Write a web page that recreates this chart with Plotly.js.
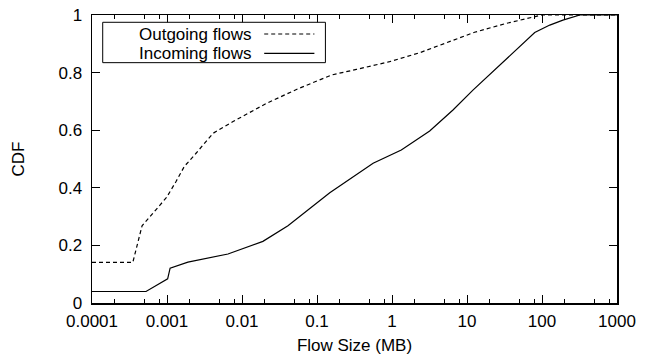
<!DOCTYPE html>
<html>
<head>
<meta charset="utf-8">
<script src="https://cdn.plot.ly/plotly-3.0.1.min.js"></script>
<style>html,body{margin:0;padding:0;background:#fff;}#chart{width:653px;height:360px;}</style>
</head>
<body>
<div id="chart"></div>
<script>
// Flow size (MB) and CDF values
const outgoingSize = [0.0001, 0.00035, 0.000465, 0.00075, 0.00099, 0.00132, 0.0017, 0.00244, 0.0041, 0.0076, 0.0211, 0.056, 0.158, 0.335, 0.93, 2.34, 5.0, 12.6, 33.5, 85, 100, 1000];
const outgoingCdf  = [0.141, 0.141, 0.268, 0.329, 0.367, 0.422, 0.474, 0.52, 0.589, 0.63, 0.693, 0.744, 0.792, 0.811, 0.838, 0.869, 0.902, 0.94, 0.971, 0.997, 1.0, 1.0];

const incomingSize = [0.0001, 0.000525, 0.00102, 0.0011, 0.0019, 0.0065, 0.019, 0.041, 0.148, 0.56, 1.33, 3.18, 6.5, 12, 80, 127, 190, 320, 1000];
const incomingCdf  = [0.04, 0.04, 0.084, 0.121, 0.142, 0.17, 0.214, 0.268, 0.383, 0.485, 0.531, 0.597, 0.67, 0.739, 0.939, 0.965, 0.982, 1.0, 1.0];

const xTickVals = [0.0001, 0.001, 0.01, 0.1, 1, 10, 100, 1000];
const xTickText = ["0.0001", "0.001", "0.01", "0.1", "1", "10", "100", "1000"];
const yTickVals = [0, 0.2, 0.4, 0.6, 0.8, 1];
const yTickText = ["0", "0.2", "0.4", "0.6", "0.8", "1"];
const seriesNames = ["Outgoing flows", "Incoming flows"];

const minorVals = [];
for (let i = 0; i < xTickVals.length - 1; i++) {
  [2, 5, 8].forEach(m => minorVals.push(xTickVals[i] * m));
}

const FONT = "Liberation Sans, Arial, Helvetica, sans-serif";
const traces = [
  {x: outgoingSize, y: outgoingCdf, mode: "lines", name: seriesNames[0],
   line: {color: "#000", width: 1.2, dash: "4px,3px"}, showlegend: false},
  {x: incomingSize, y: incomingCdf, mode: "lines", name: seriesNames[1],
   line: {color: "#000", width: 1.2}, showlegend: false}
];

// custom gnuplot-style key: text on the left, line sample on the right
const keyBox = {x0: 0.0204, x1: 0.4446, y0: 0.8345, y1: 0.9747};
const keyRows = [0.934, 0.867];
const layout = {
  width: 653, height: 360,
  margin: {l: 92, r: 36, t: 15, b: 57, pad: 0},
  paper_bgcolor: "#fff", plot_bgcolor: "#fff",
  font: {family: FONT, size: 17, color: "#000"},
  showlegend: false,
  xaxis: {
    type: "log", range: [-4, 3],
    tickmode: "array", tickvals: xTickVals, ticktext: xTickText,
    ticks: "inside", ticklen: 8, tickwidth: 1, tickcolor: "#000",
    minor: {tickmode: "array", tickvals: minorVals, ticks: "inside", ticklen: 4, tickwidth: 1, tickcolor: "#000", showgrid: false},
    showline: true, linecolor: "#000", linewidth: 1.5, mirror: "allticks",
    showgrid: false, zeroline: false,
    tickfont: {family: FONT, size: 17},
    ticklabelstandoff: 2,
    title: {text: "Flow Size (MB)", font: {family: FONT, size: 17}, standoff: 9}
  },
  yaxis: {
    range: [0, 1],
    tickmode: "array", tickvals: yTickVals, ticktext: yTickText,
    ticks: "inside", ticklen: 8, tickwidth: 1, tickcolor: "#000",
    showline: true, linecolor: "#000", linewidth: 1.5, mirror: "allticks",
    showgrid: false, zeroline: false,
    tickfont: {family: FONT, size: 17},
    ticklabelstandoff: 5,
    title: {text: "CDF", font: {family: FONT, size: 17}, standoff: 29}
  },
  shapes: [
    {type: "rect", xref: "paper", yref: "paper", x0: keyBox.x0, x1: keyBox.x1, y0: keyBox.y0, y1: keyBox.y1,
     line: {color: "#000", width: 1}, fillcolor: "#fff", layer: "above"},
    {type: "line", xref: "paper", yref: "paper", x0: 0.328, x1: 0.4236, y0: keyRows[0], y1: keyRows[0],
     line: {color: "#000", width: 1.2, dash: "4px,3px"}, layer: "above"},
    {type: "line", xref: "paper", yref: "paper", x0: 0.328, x1: 0.4236, y0: keyRows[1], y1: keyRows[1],
     line: {color: "#000", width: 1.2}, layer: "above"}
  ],
  annotations: seriesNames.map((n, i) => ({
    text: n, xref: "paper", yref: "paper", x: 0.306, y: keyRows[i],
    xanchor: "right", yanchor: "middle", showarrow: false,
    font: {family: FONT, size: 17, color: "#000"}
  }))
};

Plotly.newPlot("chart", traces, layout, {staticPlot: true, displayModeBar: false});
</script>
</body>
</html>
